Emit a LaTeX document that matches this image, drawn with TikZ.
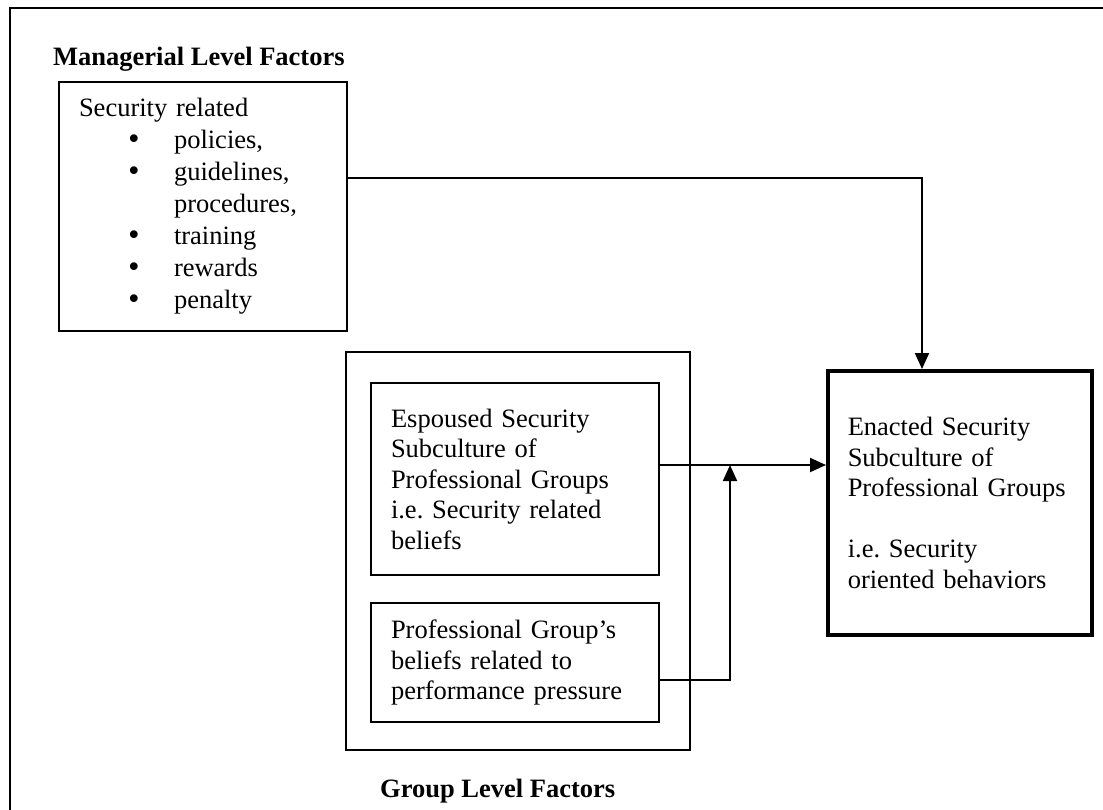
\documentclass[tikz,border=0pt]{standalone}
\usepackage{fontspec}
\setmainfont{Liberation Serif}
\newfontfamily\symfont{DejaVu Sans}
\usetikzlibrary{arrows.meta}
\frenchspacing

\tikzset{
  box/.style={draw, line width=2pt, rectangle, anchor=north west, inner xsep=20pt, inner ysep=0pt,
    align=left, font=\fontsize{26.5}{30.5}\selectfont},
  thickbox/.style={box, line width=3.5pt},
  title/.style={anchor=base west, inner sep=0pt, font=\fontsize{26.5}{30.5}\selectfont\bfseries},
  link/.style={line width=2pt},
  flow/.style={link, -{Triangle[length=16pt,width=14pt]}}
}
% a bulleted entry of the policy list
\newcommand{\blt}[1]{\hspace*{47pt}\makebox[16pt][c]{\symfont •}\hspace*{32pt}#1}
\newcommand{\cont}[1]{\hspace*{95pt}#1}

\begin{document}
\begin{tikzpicture}[x=1pt,y=-1pt]
  \useasboundingbox (0,0) rectangle (1103,809);

  % page frame, running past the right and bottom edges
  \begin{scope}
    \clip (0,0) rectangle (1103,809);
    \draw[line width=2.6pt] (10,8) rectangle (1130,840);
  \end{scope}

  % managerial level
  \node[title] (mgrtitle) at (53,65) {Managerial Level Factors};
  \node[box, minimum width=288pt, minimum height=249pt, text width=248pt,
        font=\fontsize{26.5}{32}\selectfont] (mgr) at (58,81)
    {Security related\\
     \blt{policies,}\\
     \blt{guidelines,}\\
     \cont{procedures,}\\
     \blt{training}\\
     \blt{rewards}\\
     \blt{penalty}};

  % group level
  \node[box, minimum width=344pt, minimum height=398pt] (group) at (345,351) {};
  \node[box, minimum width=288pt, minimum height=192pt, text width=248pt] (esp) at (370,382)
    {Espoused Security\\Subculture of\\Professional Groups\\i.e. Security related\\beliefs};
  \node[box, minimum width=288pt, minimum height=119pt, text width=248pt] (perf) at (370,602)
    {Professional Group’s\\beliefs related to\\performance pressure};
  \node[title] (grptitle) at (380,797) {Group Level Factors};

  % outcome
  \node[thickbox, minimum width=264pt, minimum height=264pt, text width=224pt] (enact) at (826,369)
    {Enacted Security\\Subculture of\\Professional Groups\\[30.5pt]i.e. Security\\oriented behaviors};

  % connectors
  \coordinate (mgrturn) at (922,178);
  \coordinate (join) at (730,465);
  \coordinate (perfturn) at (730,680);

  \draw[flow] (mgrturn -| mgr.east) -- (mgrturn) -- (mgrturn |- enact.north);
  \draw[flow] (join -| esp.east) -- (join -| enact.west);
  \draw[flow] (perfturn -| perf.east) -- (perfturn) -- (join);
\end{tikzpicture}
\end{document}
